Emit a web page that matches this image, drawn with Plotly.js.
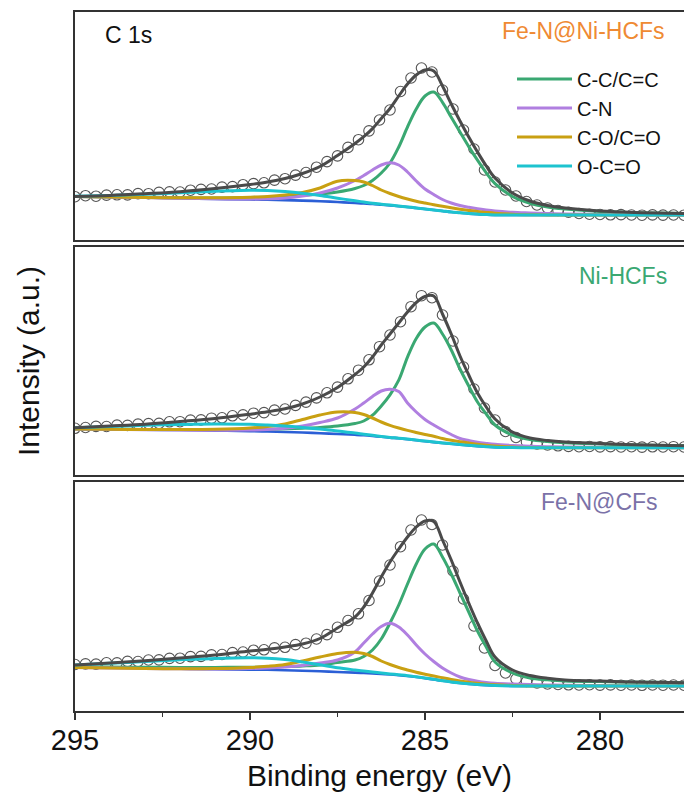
<!DOCTYPE html>
<html>
<head>
<meta charset="utf-8">
<script src="https://cdn.plot.ly/plotly-3.0.1.min.js"></script>
<style>html,body{margin:0;padding:0;background:#fff}#chart{width:684px;height:795px}</style>
</head>
<body>
<div id="chart"></div>
<script>
// Binding energy grid of the fitted curves (eV)
const BE_FIT = [295, 294, 293, 292, 291, 290, 289.5, 289, 288.5, 288, 287.5, 287, 286.75, 286.5, 286.25, 286, 285.75, 285.5, 285.25, 285, 284.75, 284.5, 284.25, 284, 283.75, 283.5, 283.25, 283, 282.5, 282, 281.5, 281, 280, 279, 278, 277.6];
// Binding energy of the measured points (eV)
const BE_DATA = [295.0, 294.7, 294.4, 294.1, 293.8, 293.5, 293.2, 292.9, 292.6, 292.3, 292.0, 291.7, 291.4, 291.1, 290.8, 290.5, 290.2, 289.9, 289.6, 289.3, 289.0, 288.7, 288.4, 288.1, 287.8, 287.5, 287.2, 286.9, 286.6, 286.3, 286.0, 285.7, 285.4, 285.1, 284.8, 284.5, 284.2, 283.9, 283.6, 283.3, 283.0, 282.7, 282.4, 282.1, 281.8, 281.5, 281.2, 280.9, 280.6, 280.3, 280.0, 279.7, 279.4, 279.1, 278.8, 278.5, 278.2, 277.9, 277.6];

const SAMPLES = ['Fe-N@Ni-HCFs', 'Ni-HCFs', 'Fe-N@CFs'];
const COMPONENTS = ['C-C/C=C', 'C-N', 'C-O/C=O', 'O-C=O'];

// ---- Fe-N@Ni-HCFs (top) ----
const rawTop = [43.3, 44.3, 43.8, 44.9, 45.2, 45.1, 46.4, 46.3, 47.6, 48.1, 48.0, 49.8, 50.6, 51.0, 52.9, 53.4, 55.3, 56.4, 57.2, 59.9, 61.3, 64.9, 67.5, 72.8, 78.4, 84.1, 92.6, 100.3, 109.1, 120, 130, 148.5, 162, 172, 168, 150, 131, 110, 91, 70, 58, 50, 44, 38.5, 35, 32, 29.5, 27.8, 26.5, 25.8, 25.5, 25.2, 25.4, 25, 24.8, 25.1, 24.9, 25, 24.8];
const fitTop = [43.6, 44.6, 46.3, 48.3, 51.5, 55.5, 58, 61.5, 66.5, 73.5, 84.5, 96.5, 103.3, 111.4, 121.5, 131.5, 144, 156, 165, 170, 169, 154, 136, 119, 103, 88, 74, 62, 47, 39, 34.5, 32, 29, 27.5, 26.7, 26.5];
const ccTop = [43.5, 43, 42.8, 42.2, 42, 42.5, 43, 43.8, 44.8, 46, 48, 51.5, 54.5, 59.5, 67, 77, 93, 113, 131, 144, 148, 137.7, 122.7, 108, 93.4, 79.8, 67.2, 56.4, 43.5, 36.7, 33, 31, 28.5, 27.3, 26.7, 26.5];
const cnTop = [43.5, 43, 42.5, 41.7, 41.2, 41, 41.2, 42, 44, 47, 52, 59.5, 64.5, 70, 75, 77.3, 75, 68, 59, 51, 45.5, 40.5, 37, 34.5, 32.7, 31.2, 30, 29, 27.7, 27, 26.4, 26, 25.5, 25.2, 25, 25];
const coTop = [43.5, 43, 42.5, 42.2, 42.2, 42.8, 43.5, 45, 47.5, 52, 58.8, 59.4, 58, 54.5, 50, 46.5, 43.5, 41, 38.8, 37, 35.3, 33.7, 32.2, 30.8, 29.6, 28.5, 27.6, 26.8, 25.8, 25.3, 25.1, 25, 25, 25, 25, 25];
const ocoTop = [43.7, 44.5, 45.7, 47.2, 48.8, 49.8, 49.5, 48.5, 46.8, 44.5, 41.8, 39.2, 38, 36.8, 35.8, 34.9, 34, 33.1, 32.1, 31.1, 30.1, 29.1, 28.1, 27.3, 26.5, 25.9, 25.4, 25.1, 25, 25, 25, 25, 25, 25, 25, 25];
const bgTop = [43.5, 43, 42.5, 41.7, 41, 40.5, 40.2, 39.8, 39.4, 38.8, 38, 37, 36.5, 36, 35.3, 34.6, 33.8, 33, 32, 31, 30, 29, 28, 27.2, 26.4, 25.8, 25.4, 25.1, 25, 25, 25, 25, 25, 25, 25, 25];

// ---- Ni-HCFs (middle) ----
const rawMid = [46.7, 47.5, 48.6, 48.5, 49.9, 49.6, 50.9, 51.4, 51.6, 53.2, 53.3, 54.9, 55.1, 56.8, 57.2, 59.2, 60.1, 61.8, 62.4, 64.9, 66, 69.6, 72.9, 77.1, 82.2, 87.9, 96.2, 104.8, 115.2, 128.3, 140, 153.3, 168.3, 179.3, 177.3, 160, 134, 108, 86, 67, 55, 43.5, 37.5, 33, 31, 30, 29.2, 28.6, 28.3, 28.5, 28.1, 28.4, 28, 28.3, 27.9, 28.2, 28, 28.3, 28];
const fitMid = [47.3, 49, 50.8, 53.5, 56.5, 60.8, 63.2, 66.2, 71, 78, 87.5, 100.5, 108, 118, 130, 141, 152, 163, 172.5, 178.5, 179, 161, 141, 119, 100, 82, 68, 56, 43, 37, 34.5, 33, 31.5, 30.2, 29.5, 29.3];
const ccMid = [46, 45.8, 45.6, 45.5, 45.5, 45.6, 45.8, 46.2, 46.8, 47.6, 49, 51.5, 54, 59.8, 69, 80.2, 94.8, 117.9, 136.5, 148, 152, 141, 125, 106, 89, 73, 61, 50, 40, 35.5, 33.5, 32.3, 31, 30, 29.5, 29.3];
const cnMid = [46, 45.7, 45.3, 45, 44.7, 45, 45.5, 46.8, 49, 52.5, 57, 66, 72, 78.5, 84, 85.7, 83.5, 72, 63, 55.5, 50, 45, 40.5, 36.5, 34.5, 32.7, 31.6, 30.7, 29.6, 28.8, 28.3, 28, 27.7, 27.5, 27.3, 27.3];
const coMid = [46, 45.7, 45.5, 45.4, 45.7, 47, 48.5, 51, 55.5, 60, 63, 62.5, 60.5, 57, 53, 49.7, 47, 44.6, 42.5, 40.5, 38.7, 36.5, 34.7, 33.2, 32, 30.8, 29.8, 29, 28, 27.5, 27.3, 27.3, 27.3, 27.3, 27.3, 27.3];
const ocoMid = [47.3, 48.5, 49.7, 50.5, 51, 50.7, 50, 49, 47.6, 46, 44, 42, 40.8, 39.7, 38.6, 37.6, 36.8, 35.9, 34.9, 33.9, 33, 32.1, 31.3, 30.5, 29.7, 28.9, 28.3, 27.8, 27.4, 27.3, 27.3, 27.3, 27.3, 27.3, 27.3, 27.3];
const bgMid = [46, 45.7, 45.3, 45, 44.4, 43.8, 43.5, 43, 42.5, 41.8, 41, 40.2, 39.7, 39, 38.2, 37.4, 36.7, 35.8, 34.8, 33.8, 32.9, 32, 31.2, 30.4, 29.6, 28.8, 28.2, 27.8, 27.4, 27.3, 27.3, 27.3, 27.3, 27.3, 27.3, 27.3];

// ---- Fe-N@CFs (bottom) ----
const rawBot = [46.5, 47.1, 46.9, 48.2, 48.1, 49.6, 49.5, 51, 51.1, 52.6, 52.8, 54.4, 54.6, 56.1, 56.5, 58.4, 59, 60.8, 61.2, 63.1, 63.7, 66.4, 67.8, 72, 76.4, 83.7, 90.5, 97.2, 110.5, 130, 146, 164.3, 181, 191, 186.5, 166, 140, 112, 85, 63, 45.5, 38, 32, 29.5, 28, 27, 26.5, 26.2, 26, 26.3, 25.9, 26.1, 25.8, 26, 25.7, 26, 25.8, 26, 25.8];
const fitBot = [46, 48, 50.2, 53, 56, 60, 61.7, 64, 67, 72.5, 83, 94, 104, 118, 134, 149, 162, 174, 184, 190, 189.5, 171, 151, 129, 108, 88, 70, 54, 41, 35.5, 32.7, 31, 30, 29, 28.5, 28.3];
const ccBot = [44.3, 44, 43.7, 43.6, 43.6, 43.8, 44, 44.4, 45, 46, 48.5, 51, 54.5, 61, 72, 88, 106, 127, 147, 162, 167, 154, 137, 118, 99, 80, 64, 49, 38, 33, 31.2, 30, 29.4, 28.8, 28.5, 28.3];
const cnBot = [43.5, 43, 42.5, 42.2, 42, 42.5, 43, 44, 45.5, 48, 51, 59, 68, 77, 84.5, 87.7, 84, 76, 66, 57, 49.5, 43, 38, 34, 31.5, 29.8, 28.6, 27.8, 27, 26.4, 26, 25.7, 25.4, 25.2, 25, 25];
const coBot = [43.5, 43, 42.5, 42.2, 42.4, 43.5, 44.7, 46.5, 50, 54, 57.5, 58.8, 57.5, 54.5, 50, 46.5, 43.5, 41, 38.7, 36.8, 35, 33.2, 31.5, 30, 28.8, 27.7, 26.8, 26.2, 25.5, 25.1, 25, 25, 25, 25, 25, 25];
const ocoBot = [46, 47.7, 49.5, 51.2, 52.6, 53.2, 52.8, 51.4, 49, 46.2, 43.2, 41, 40, 39, 38, 37.1, 36.2, 35.3, 34.2, 33, 31.7, 30.3, 29.1, 28.1, 27.2, 26.5, 25.9, 25.5, 25.1, 25, 25, 25, 25, 25, 25, 25];
const bgBot = [44.3, 43.7, 43, 42.4, 41.8, 41.4, 41.2, 40.8, 40.3, 39.7, 39, 38.4, 38, 37.6, 37.1, 36.5, 35.8, 35, 34, 32.8, 31.6, 30.2, 29, 28, 27.1, 26.4, 25.9, 25.5, 25.1, 25, 25, 25, 25, 25, 25, 25];

const FONT = 'Arial, "Liberation Sans", Helvetica, sans-serif';
const COL = {cc: '#3aa872', cn: '#b07fe0', co: '#c9a012', oco: '#1dc3cf', bg: '#2b5fd6', fit: '#4a4a4a', raw: '#555555'};
const LABEL_COL = ['#ef8a33', '#3aa872', '#7b72a8'];

const panels = [
  {xa: 'x3', ya: 'y3', raw: rawTop, fit: fitTop, comps: [ccTop, cnTop, coTop, ocoTop], bg: bgTop, legend: true},
  {xa: 'x2', ya: 'y2', raw: rawMid, fit: fitMid, comps: [ccMid, cnMid, coMid, ocoMid], bg: bgMid, legend: false},
  {xa: 'x',  ya: 'y',  raw: rawBot, fit: fitBot, comps: [ccBot, cnBot, coBot, ocoBot], bg: bgBot, legend: false}
];
const compColors = [COL.cc, COL.cn, COL.co, COL.oco];

const traces = [];
panels.forEach((p, i) => {
  traces.push({x: BE_DATA, y: p.raw, xaxis: p.xa, yaxis: p.ya, type: 'scatter', mode: 'markers',
    name: SAMPLES[i] + ' data', showlegend: false,
    marker: {symbol: 'circle-open', size: 10.5, color: COL.raw, line: {width: 1.1, color: COL.raw}}});
  traces.push({x: BE_FIT, y: p.bg, xaxis: p.xa, yaxis: p.ya, type: 'scatter', mode: 'lines',
    name: 'Background', showlegend: false, line: {color: COL.bg, width: 2.6, shape: 'spline'}});
  p.comps.forEach((c, k) => {
    traces.push({x: BE_FIT, y: c, xaxis: p.xa, yaxis: p.ya, type: 'scatter', mode: 'lines',
      name: COMPONENTS[k], legendgroup: COMPONENTS[k], showlegend: p.legend,
      line: {color: compColors[k], width: 3, shape: 'spline'}});
  });
  traces.push({x: BE_FIT, y: p.fit, xaxis: p.xa, yaxis: p.ya, type: 'scatter', mode: 'lines',
    name: SAMPLES[i] + ' fit', showlegend: false, line: {color: COL.fit, width: 3, shape: 'spline'}});
});

const axLine = {showline: true, linecolor: '#333333', linewidth: 2, showgrid: false, zeroline: false};
const xRange = [295, 277.6];
const hiddenX = (anchor) => Object.assign({}, axLine, {anchor: anchor, mirror: true, range: xRange, showticklabels: false, ticks: ''});
const yAx = (dom, top) => Object.assign({}, axLine, {domain: dom, range: [0, top], showticklabels: false, ticks: '', mirror: false});

const layout = {
  width: 684, height: 795,
  margin: {l: 75, r: 0, t: 12, b: 84},
  paper_bgcolor: '#ffffff', plot_bgcolor: '#ffffff',
  font: {family: FONT, color: '#111111'},
  showlegend: true,
  legend: {x: 0.7176, y: 0.932, xanchor: 'left', yanchor: 'top', bgcolor: 'rgba(0,0,0,0)',
    font: {family: FONT, size: 20, color: '#111111'}, itemwidth: 55, tracegroupgap: 0},
  xaxis: Object.assign({}, axLine, {anchor: 'y', mirror: true, range: xRange, dtick: 5, tick0: 280,
    ticks: 'outside', ticklen: 7, tickwidth: 1.5, tickcolor: '#333333', ticklabelstandoff: -5,
    tickfont: {family: FONT, size: 29, color: '#111111'},
    minor: {dtick: 2.5, ticks: 'outside', ticklen: 4, tickwidth: 1.5, tickcolor: '#333333'},
    title: {text: 'Binding energy (eV)', font: {family: FONT, size: 30, color: '#111111'}, standoff: 10}}),
  xaxis2: hiddenX('y2'),
  xaxis3: hiddenX('y3'),
  yaxis: yAx([0, 0.32761], 229),
  yaxis2: Object.assign(yAx([0.33763, 0.66381], 228),
    {title: {text: 'Intensity (a.u.)', font: {family: FONT, size: 30, color: '#111111'}, standoff: 24}}),
  yaxis3: yAx([0.67382, 1], 228),
  annotations: [
    {text: 'C 1s', xref: 'paper', yref: 'paper', x: 0.046, y: 0.9664, xanchor: 'left', yanchor: 'middle', showarrow: false,
      font: {family: FONT, size: 23, color: '#111111'}},
    {text: SAMPLES[0], xref: 'paper', yref: 'paper', x: 0.9721, y: 0.9728, xanchor: 'right', yanchor: 'middle', showarrow: false,
      font: {family: FONT, size: 23, color: LABEL_COL[0]}},
    {text: SAMPLES[1], xref: 'paper', yref: 'paper', x: 0.9754, y: 0.6230, xanchor: 'right', yanchor: 'middle', showarrow: false,
      font: {family: FONT, size: 23, color: LABEL_COL[1]}},
    {text: SAMPLES[2], xref: 'paper', yref: 'paper', x: 0.9606, y: 0.2997, xanchor: 'right', yanchor: 'middle', showarrow: false,
      font: {family: FONT, size: 23, color: LABEL_COL[2]}}
  ]
};

Plotly.newPlot('chart', traces, layout, {displayModeBar: false, staticPlot: true});
</script>
</body>
</html>
